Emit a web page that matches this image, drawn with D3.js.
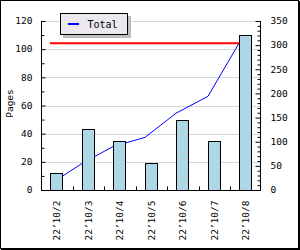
<!DOCTYPE html>
<html><head><meta charset="utf-8">
<script src="https://cdn.jsdelivr.net/npm/d3@7"></script>
<style>html,body{margin:0;padding:0;background:#fff;}svg{display:block;}</style>
</head><body>
<script>
const dates = ["22\u201910/2","22\u201910/3","22\u201910/4","22\u201910/5","22\u201910/6","22\u201910/7","22\u201910/8"];
const pages = [12, 43, 35, 19, 50, 35, 110];
const totals = [12, 55, 90, 109, 159, 194, 304];
const totalMark = 304;
const leftTicks = [0, 20, 40, 60, 80, 100, 120];
const rightTicks = [0, 50, 100, 150, 200, 250, 300, 350];
const legendLabel = "Total";
const yTitle = "Pages";

const W = 300, H = 250;
const FONT = "'DejaVu Sans Mono', monospace";
const svg = d3.select("body").append("svg").attr("width", W).attr("height", H);

const L = 41, R = 260, T = 21, B = 190;
const x = d3.scaleBand().domain(dates).range([L, 261.5]);
const yL = d3.scaleLinear().domain([0, 120]).range([B, T]);
const yR = d3.scaleLinear().domain([0, 350]).range([B, T]);
const barW = 13;
const barLeft = d => Math.round(x(d) + x.bandwidth() / 2 - barW / 2);

// pattern
const defs = svg.append("defs");
const pat = defs.append("pattern").attr("id", "dots").attr("patternUnits", "userSpaceOnUse")
  .attr("width", 5).attr("height", 6);
pat.append("rect").attr("width", 5).attr("height", 6).attr("fill", "#add8e6");
pat.append("rect").attr("x", 2).attr("y", 2).attr("width", 1).attr("height", 1).attr("fill", "#d9b3c4");

// background and border
svg.append("rect").attr("x", 0).attr("y", 0).attr("width", W).attr("height", H).attr("fill", "#fff");
svg.append("rect").attr("x", 0.5).attr("y", 0.5).attr("width", 298).attr("height", 248)
  .attr("fill", "none").attr("stroke", "#000");
svg.append("line").attr("x1", 299.5).attr("x2", 299.5).attr("y1", 1).attr("y2", 250).attr("stroke", "#000");
svg.append("line").attr("x1", 1).attr("x2", 300).attr("y1", 249.5).attr("y2", 249.5).attr("stroke", "#000");

// gridlines
svg.append("g").selectAll("line").data(leftTicks.filter(v => v > 0)).join("line")
  .attr("x1", L).attr("x2", R).attr("y1", d => Math.round(yL(d)) + 0.5).attr("y2", d => Math.round(yL(d)) + 0.5)
  .attr("stroke", "#d6d6d6");

// total line (cumulative) and red total mark
const lineGen = d3.line().x((d, i) => barLeft(dates[i])).y(d => yR(d));
svg.append("path").datum(totals).attr("d", lineGen).attr("fill", "none").attr("stroke", "#0000ff").attr("stroke-width", 1);
svg.append("line").attr("x1", barLeft(dates[0])).attr("x2", barLeft(dates[dates.length - 1]))
  .attr("y1", yR(totalMark)).attr("y2", yR(totalMark)).attr("stroke", "#ff0000").attr("stroke-width", 2);

// bars
svg.append("g").selectAll("rect").data(pages).join("rect")
  .attr("x", (d, i) => barLeft(dates[i]) + 0.5)
  .attr("y", d => Math.round(yL(d)) + 0.5)
  .attr("width", barW - 1)
  .attr("height", d => B - Math.round(yL(d)))
  .attr("fill", "url(#dots)").attr("stroke", "#000").attr("stroke-width", 1);

// left axis
const gl = svg.append("g").attr("transform", `translate(${L + 0.5},0)`);
gl.call(d3.axisRight(yL).tickValues(d3.range(0, 121, 10)).tickSize(3).tickFormat(""))
  .call(g => g.select(".domain").remove());
gl.append("line").attr("y1", T).attr("y2", B).attr("stroke", "#000");
gl.selectAll(".tick line").attr("x2", d => d % 20 === 0 ? 4 : 3);
gl.selectAll("text.lbl").data(leftTicks).join("text").attr("class", "lbl")
  .attr("x", -9).attr("y", d => yL(d)).attr("dy", "0.35em").attr("text-anchor", "end")
  .attr("fill", "#000").attr("font-family", FONT).attr("font-size", 9.5).text(d => d);

// right axis
const gr = svg.append("g").attr("transform", `translate(${R + 0.5},0)`);
gr.call(d3.axisLeft(yR).tickValues(d3.range(0, 351, 10)).tickSize(3).tickFormat(""))
  .call(g => g.select(".domain").remove());
gr.append("line").attr("y1", T).attr("y2", B).attr("stroke", "#000");
gr.selectAll(".tick line").attr("x2", d => d % 50 === 0 ? -5 : -3);
gr.selectAll("text.lbl").data(rightTicks).join("text").attr("class", "lbl")
  .attr("x", 10).attr("y", d => yR(d)).attr("dy", "0.35em").attr("text-anchor", "start")
  .attr("fill", "#000").attr("font-family", FONT).attr("font-size", 9.5).text(d => d);

// x axis
const gx = svg.append("g").attr("transform", `translate(0,${B + 0.5})`);
gx.append("line").attr("x1", L).attr("x2", R + 1).attr("stroke", "#000");
gx.selectAll("line.tk").data(dates.slice(1)).join("line").attr("class", "tk")
  .attr("x1", d => Math.round(x(d)) + 0.5).attr("x2", d => Math.round(x(d)) + 0.5)
  .attr("y1", 0).attr("y2", -4).attr("stroke", "#000");
gx.selectAll("text").data(dates).join("text")
  .attr("transform", d => `translate(${x(d) + x.bandwidth() / 2 + 3.5},${200 - B}) rotate(-90)`)
  .attr("text-anchor", "end").attr("fill", "#000").attr("font-family", FONT).attr("font-size", 9.5).text(d => d);

// y title
svg.append("text").attr("transform", `translate(12.5,${(T + B) / 2 - 2}) rotate(-90)`)
  .attr("text-anchor", "middle").attr("fill", "#000").attr("font-family", FONT).attr("font-size", 9.5).text(yTitle);

// legend
const lg = svg.append("g");
lg.append("rect").attr("x", 63).attr("y", 16).attr("width", 68).attr("height", 22).attr("fill", "#bdbfbd");
lg.append("rect").attr("x", 60.5).attr("y", 13.5).attr("width", 67).attr("height", 21)
  .attr("fill", "#ebe9ee").attr("stroke", "#000");
lg.append("line").attr("x1", 68).attr("x2", 79).attr("y1", 24).attr("y2", 24).attr("stroke", "#0000ff").attr("stroke-width", 2);
lg.append("text").attr("x", 87.5).attr("y", 27.5).attr("fill", "#000").attr("font-family", FONT).attr("font-size", 10).text(legendLabel);
</script>
</body></html>
